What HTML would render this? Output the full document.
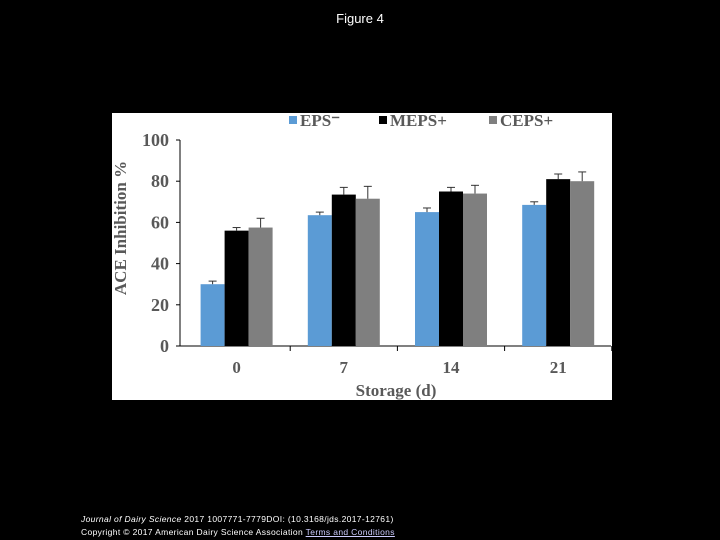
<!DOCTYPE html>
<html><head><meta charset="utf-8"><style>
body{margin:0;background:#000;width:720px;height:540px;overflow:hidden;font-family:"Liberation Sans",sans-serif}
.t{position:absolute;color:#fff}
</style></head><body>
<div class="t" style="left:0;width:720px;top:11px;text-align:center;font-size:13px">Figure 4</div>
<svg style="position:absolute;left:112px;top:113px" width="500" height="287" viewBox="112 113 500 287">
<rect x="112" y="113" width="500" height="287" fill="#fff"/>
<g id="g" font-family="Liberation Serif,serif" font-weight="bold" fill="#595959"></g>
</svg>
<div class="t" style="left:81px;top:513px;font-size:8.5px;letter-spacing:0.35px;line-height:13px;white-space:nowrap"><i>Journal of Dairy Science</i> 2017 1007771-7779DOI: (10.3168/jds.2017-12761)<br>Copyright © 2017 American Dairy Science Association <u style="color:#ccf">Terms and Conditions</u></div>
<script>
const categories=["0","7","14","21"];
const seriesNames=["EPS\u207B","MEPS+","CEPS+"];
const eps=[30,63.5,65,68.5];
const meps=[56,73.5,75,81];
const ceps=[57.5,71.5,74,80];
const epsErr=[1.5,1.5,2,1.5];
const mepsErr=[1.5,3.5,2,2.5];
const cepsErr=[4.5,6,4,4.5];
const yTicks=[0,20,40,60,80,100];
const colors=["#5b9bd5","#000","#7f7f7f"];
const NS="http://www.w3.org/2000/svg",g=document.getElementById('g');
const x0=183,cw=107.2,y=v=>346-v*2.06;
function mk(t,a,txt){const e=document.createElementNS(NS,t);for(const k in a)e.setAttribute(k,a[k]);if(txt!=null)e.textContent=txt;g.appendChild(e);return e;}
let e=mk('line',{x1:180,y1:y(0),x2:180,y2:y(100),stroke:"#000"});

e=mk('line',{x1:180,y1:y(0),x2:611,y2:y(0),stroke:"#000"});

yTicks.forEach(v=>{mk('line',{x1:176,x2:180,y1:y(v),y2:y(v),stroke:"#000"});
e=mk('text',{x:169,y:y(v)+6,"text-anchor":"end","font-size":18},v);
});
const data=[eps,meps,ceps],errs=[epsErr,mepsErr,cepsErr];
categories.forEach((c,i)=>{const cx=x0+cw*i+cw/2;
mk('line',{x1:x0+cw*(i+1),x2:x0+cw*(i+1),y1:y(0),y2:y(0)+5,stroke:"#000"});
e=mk('text',{x:cx,y:373,"text-anchor":"middle","font-size":17},c);

data.forEach((s,j)=>{const bx=cx-36+24*j,bw=24;
e=mk('rect',{x:bx,y:y(s[i]),width:bw,height:y(0)-y(s[i]),fill:colors[j]});

const top=y(s[i]+errs[j][i]),m=bx+bw/2;
mk('line',{x1:m,x2:m,y1:y(s[i]),y2:top,stroke:"#333"});
mk('line',{x1:m-4,x2:m+4,y1:top,y2:top,stroke:"#333"});});});
e=mk('text',{x:396,y:396,"text-anchor":"middle","font-size":17},"Storage (d)");

e=mk('text',{x:126,y:228,"text-anchor":"middle","font-size":17,transform:"rotate(-90 126 228)"},"ACE Inhibition %");

const lx=[289,379,489];
seriesNames.forEach((n,j)=>{mk('rect',{x:lx[j],y:116,width:8,height:8,fill:colors[j]});
e=mk('text',{x:lx[j]+11,y:126,"font-size":17},n);
});
</script>
</body></html>
